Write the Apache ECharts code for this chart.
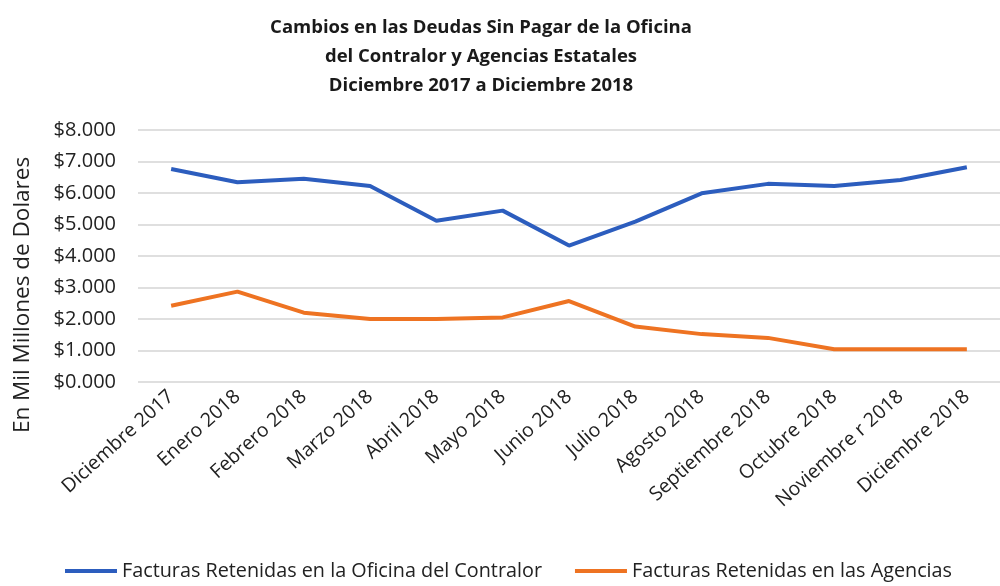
<!DOCTYPE html>
<html>
<head>
<meta charset="utf-8">
<script src="https://cdn.jsdelivr.net/npm/echarts@6/dist/echarts.min.js"></script>
<style>html,body{margin:0;padding:0;background:#fff;}#c{width:1000px;height:586px;}</style>
</head>
<body>
<div id="c"></div>
<script>
const categories = ["Diciembre 2017","Enero 2018","Febrero 2018","Marzo 2018","Abril 2018","Mayo 2018","Junio 2018","Julio 2018","Agosto 2018","Septiembre 2018","Octubre 2018","Noviembre r 2018","Diciembre 2018"];
const contralor = [6.76,6.34,6.45,6.22,5.12,5.44,4.33,5.09,5.99,6.29,6.22,6.41,6.82];
const agencias = [2.42,2.87,2.20,2.00,2.00,2.05,2.57,1.76,1.52,1.40,1.04,1.04,1.04];
const yTickLabels = ["$0.000","$1.000","$2.000","$3.000","$4.000","$5.000","$6.000","$7.000","$8.000"];
const seriesNames = ["Facturas Retenidas en la Oficina del Contralor","Facturas Retenidas en las Agencias"];
const titleLines = ["Cambios en las Deudas Sin Pagar de la Oficina","del Contralor y Agencias Estatales","Diciembre 2017 a Diciembre 2018"];
const yAxisName = "En Mil Millones de Dolares";

const FONT = "'Open Sans', Lato, sans-serif";
const chart = echarts.init(document.getElementById('c'));
chart.setOption({
  animation: false,
  backgroundColor: '#fff',
  title: {
    text: titleLines.join('\n'),
    left: 476, textAlign: 'center', top: 8,
    textStyle: { fontFamily: FONT, fontWeight: 'bold', fontSize: 18.5, lineHeight: 29, color: '#1a1a1a' }
  },
  graphic: [{
    type: 'text', x: 23, y: 295, rotation: Math.PI / 2,
    style: { text: yAxisName, fontFamily: FONT, fontSize: 22.5, fill: '#222', align: 'center', verticalAlign: 'middle' }
  }],
  legend: {
    bottom: 0, left: 60,
    itemWidth: 52, itemHeight: 4, itemGap: 33,
    icon: 'rect',
    textStyle: { fontFamily: FONT, fontSize: 19.8, color: '#222' },
    data: seriesNames
  },
  grid: { left: 138, right: -12, top: 130, bottom: 204, containLabel: false },
  xAxis: {
    type: 'category', data: categories, boundaryGap: true,
    axisLine: { show: false }, axisTick: { show: false },
    axisLabel: { rotate: 42, interval: 0, margin: 12, fontFamily: FONT, fontSize: 19.5, color: '#222' }
  },
  yAxis: {
    type: 'value', min: 0, max: 8, interval: 1,
    axisLine: { show: false }, axisTick: { show: false },
    axisLabel: { margin: 22, fontFamily: FONT, fontSize: 20, color: '#222',
      formatter: v => yTickLabels[Math.round(v)] },
    splitLine: { lineStyle: { color: '#d4d4d4', width: 1.5 } }
  },
  series: [
    { name: seriesNames[0], type: 'line', data: contralor, symbol: 'none',
      lineStyle: { width: 4, color: '#2C5DBE' }, itemStyle: { color: '#2C5DBE' } },
    { name: seriesNames[1], type: 'line', data: agencias, symbol: 'none',
      lineStyle: { width: 4, color: '#EE7322' }, itemStyle: { color: '#EE7322' } }
  ]
});
</script>
</body>
</html>
